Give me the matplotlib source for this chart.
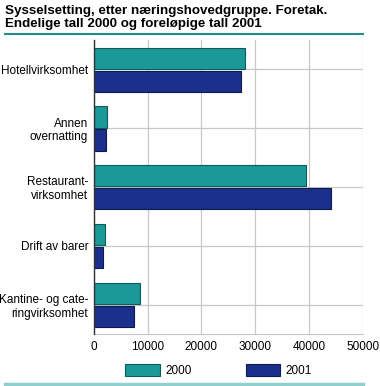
import numpy as np
import matplotlib
matplotlib.use("Agg")
import matplotlib.pyplot as plt
from matplotlib.lines import Line2D

plt.rcParams['font.family'] = ['Liberation Sans', 'DejaVu Sans']

# Data
categories = ["Hotellvirksomhet", "Annen\novernatting", "Restaurant-\nvirksomhet",
              "Drift av barer", "Kantine- og cate-\nringvirksomhet"]
values_2000 = [28100, 2400, 39400, 2150, 8600]
values_2001 = [27300, 2300, 44050, 1700, 7500]
series_labels = ["2000", "2001"]
xticks = [0, 10000, 20000, 30000, 40000, 50000]

teal = "#1b9898"
navy = "#1b308c"

fig = plt.figure(figsize=(3.8, 3.86), dpi=100)
ax = fig.add_axes([0.2466, 0.1347, 0.955 - 0.2466, 0.8964 - 0.1347])

y = np.arange(len(categories))
h = 0.36
ax.barh(y - 0.19, values_2000, height=h, color=teal, edgecolor="#0f5a5a",
        linewidth=0.8, label=series_labels[0], zorder=3)
ax.barh(y + 0.2, values_2001, height=h, color=navy, edgecolor="#0d1a50",
        linewidth=0.8, label=series_labels[1], zorder=3)

ax.set_ylim(len(categories) - 0.5, -0.5)
ax.set_xlim(0, 50000)
ax.set_yticks(y)
ax.set_yticklabels(categories, fontsize=8.5, ha="right")
ax.set_xticks(xticks)
ax.set_xticklabels([str(t) for t in xticks], fontsize=8.5)
ax.tick_params(axis="both", length=0, pad=5)
ax.tick_params(axis="y", pad=4)

ax.grid(True, color="#c8c8c8", linewidth=0.9, zorder=0)
for s in ["top", "right"]:
    ax.spines[s].set_visible(False)
ax.spines["left"].set_color("#333333")
ax.spines["left"].set_linewidth(1.0)
ax.spines["left"].set_zorder(4)
ax.spines["bottom"].set_color("#c8c8c8")

# Title
fig.text(0.012, 0.988, "Sysselsetting, etter næringshovedgruppe. Foretak.\n"
         "Endelige tall 2000 og foreløpige tall 2001",
         fontsize=9.6, fontweight="bold", va="top", ha="left", linespacing=1.2)
fig.add_artist(Line2D([0.012, 0.955], [0.911, 0.911], color="#1b8f8c", linewidth=1.5))
fig.add_artist(Line2D([0.012, 0.955], [0.004, 0.004], color="#8fcfcc", linewidth=2.5))

fig.legend(loc="center", bbox_to_anchor=(0.575, 0.04), ncol=2, frameon=False,
           fontsize=8.5, handlelength=2.9, handleheight=1.2, columnspacing=4.6,
           handletextpad=0.45)

fig.savefig("out.png", dpi=100)
